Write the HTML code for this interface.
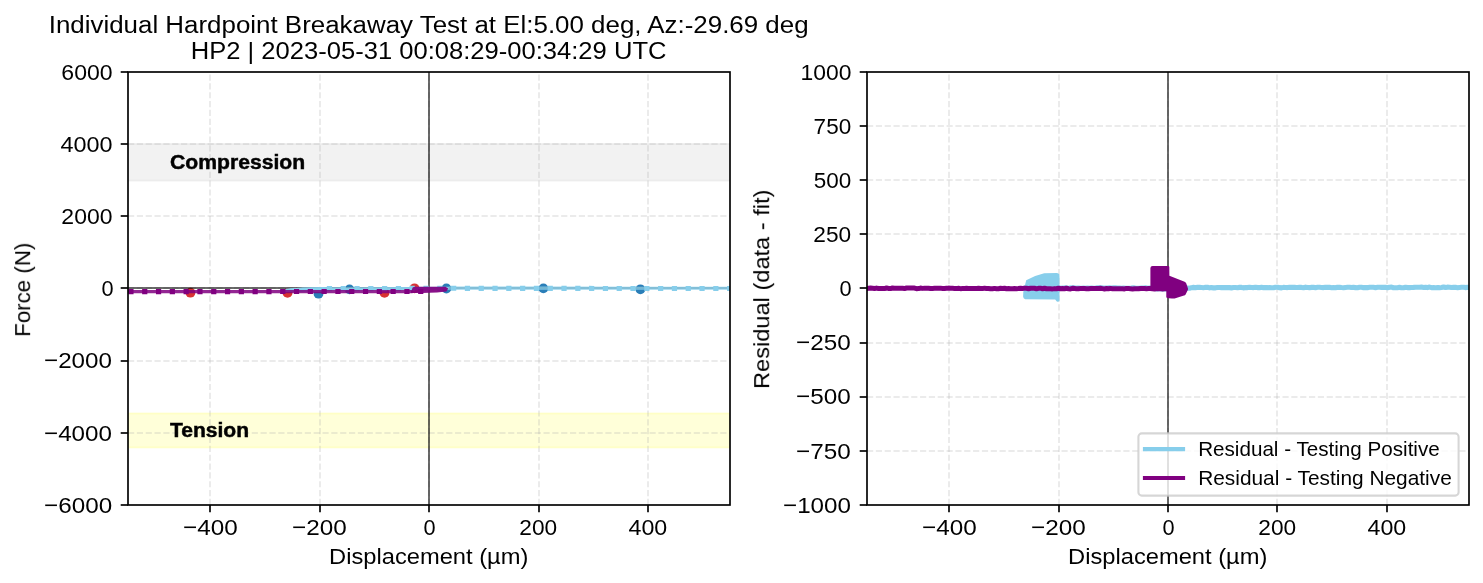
<!DOCTYPE html>
<html><head><meta charset="utf-8"><title>Hardpoint Breakaway Test</title>
<style>html,body{margin:0;padding:0;background:#fff}svg{display:block}</style></head>
<body>
<svg width="1483" height="583" viewBox="0 0 1483 583" font-family="Liberation Sans, sans-serif" fill="#000">
<style>.g{stroke:#b0b0b0;stroke-opacity:.25;stroke-width:2;stroke-dasharray:6.17 2.67;fill:none}.t{stroke:#000;stroke-width:1.67}text{font-family:"Liberation Sans",sans-serif}</style>
<rect width="1483" height="583" fill="#fff"/>
<clipPath id="c1"><rect x="128.0" y="72.0" width="602.0" height="433.0"/></clipPath>
<clipPath id="c2"><rect x="867.0" y="72.0" width="602.0" height="433.0"/></clipPath>
<g clip-path="url(#c1)">
<rect x="128.0" y="143.9" width="602.0" height="36.75" fill="#d3d3d3" fill-opacity=".3" stroke="#d3d3d3" stroke-opacity=".3" stroke-width="1.75"/>
<rect x="128.0" y="413.4" width="602.0" height="34.1" fill="#ffff00" fill-opacity=".15" stroke="#ffff00" stroke-opacity=".15" stroke-width="1.75"/>
<line x1="210" y1="505.0" x2="210" y2="72.0" class="g"/>
<line x1="320" y1="505.0" x2="320" y2="72.0" class="g"/>
<line x1="429" y1="505.0" x2="429" y2="72.0" class="g"/>
<line x1="539" y1="505.0" x2="539" y2="72.0" class="g"/>
<line x1="648" y1="505.0" x2="648" y2="72.0" class="g"/>
<line x1="128.0" y1="433" x2="730.0" y2="433" class="g"/>
<line x1="128.0" y1="361" x2="730.0" y2="361" class="g"/>
<line x1="128.0" y1="288" x2="730.0" y2="288" class="g"/>
<line x1="128.0" y1="216" x2="730.0" y2="216" class="g"/>
<line x1="128.0" y1="144" x2="730.0" y2="144" class="g"/>
<circle cx="190.4" cy="292.7" r="4.9" fill="#d62728" fill-opacity=".95"/>
<circle cx="287.5" cy="292.9" r="4.9" fill="#d62728" fill-opacity=".95"/>
<circle cx="384.5" cy="292.9" r="4.9" fill="#d62728" fill-opacity=".95"/>
<circle cx="414.5" cy="288.3" r="4.9" fill="#d62728" fill-opacity=".95"/>
<circle cx="318.5" cy="293.7" r="4.9" fill="#1f77b4" fill-opacity=".95"/>
<circle cx="349.5" cy="289.4" r="4.9" fill="#1f77b4" fill-opacity=".95"/>
<circle cx="446.4" cy="288.5" r="4.9" fill="#1f77b4" fill-opacity=".95"/>
<circle cx="543.4" cy="288.4" r="4.9" fill="#1f77b4" fill-opacity=".95"/>
<circle cx="640.4" cy="289.3" r="4.9" fill="#1f77b4" fill-opacity=".95"/>
<line x1="429" y1="72.0" x2="429" y2="505.0" stroke="#000" stroke-opacity=".58" stroke-width="2"/>
<line x1="128.0" y1="288" x2="730.0" y2="288" stroke="#000" stroke-opacity=".58" stroke-width="2"/>
<path d="M285.2,292 L285.4,289.4 Q285.6,288.7 286.6,288.7 L302.4,287.4 L324,286.9 L327,287.2 L327,292 Z" fill="#87ceeb"/>
<polyline points="285.60,290.30 300.00,289.60 324.00,288.75 360.00,288.70 449.00,288.25" fill="none" stroke="#87ceeb" stroke-width="3.1" stroke-opacity=".97" stroke-linejoin="round"/>
<polyline points="449.00,288.10 540.00,288.15 640.00,288.20 731.00,288.20" fill="none" stroke="#87ceeb" stroke-width="3.1" stroke-opacity=".85" stroke-linejoin="round"/>
<polyline points="326.85,288.72 360.00,288.70 450.00,288.25 540.00,288.45 640.00,288.50 731.00,288.50" fill="none" stroke="#87ceeb" stroke-width="5.2" stroke-dasharray="5.2 8.6"/>
<polyline points="128,291.6 412.6,291.6" fill="none" stroke="#800080" stroke-width="3.1" stroke-opacity=".85"/>
<polyline points="128.35,291.55 424,291.5" fill="none" stroke="#800080" stroke-width="5.2" stroke-dasharray="5.2 8.6"/>
<path d="M410.8,293 L412.6,287.4 Q414,286.8 415,286.8 L445.5,286.8 L448.2,288.4 L446.4,291.4 L437,292.6 L422,293 Z" fill="#800080" fill-opacity=".93"/>
</g>
<line x1="210.00" y1="505.0" x2="210.00" y2="512.3" class="t"/>
<line x1="320.00" y1="505.0" x2="320.00" y2="512.3" class="t"/>
<line x1="429.00" y1="505.0" x2="429.00" y2="512.3" class="t"/>
<line x1="539.00" y1="505.0" x2="539.00" y2="512.3" class="t"/>
<line x1="648.00" y1="505.0" x2="648.00" y2="512.3" class="t"/>
<line x1="120.7" y1="505.00" x2="128.0" y2="505.00" class="t"/>
<line x1="120.7" y1="433.00" x2="128.0" y2="433.00" class="t"/>
<line x1="120.7" y1="361.00" x2="128.0" y2="361.00" class="t"/>
<line x1="120.7" y1="288.00" x2="128.0" y2="288.00" class="t"/>
<line x1="120.7" y1="216.00" x2="128.0" y2="216.00" class="t"/>
<line x1="120.7" y1="144.00" x2="128.0" y2="144.00" class="t"/>
<line x1="120.7" y1="72.00" x2="128.0" y2="72.00" class="t"/>
<rect x="128.0" y="72.0" width="602.0" height="433.0" fill="none" stroke="#000" stroke-width="1.67"/>
<g clip-path="url(#c2)">
<line x1="949" y1="505.0" x2="949" y2="72.0" class="g"/>
<line x1="1059" y1="505.0" x2="1059" y2="72.0" class="g"/>
<line x1="1168" y1="505.0" x2="1168" y2="72.0" class="g"/>
<line x1="1277" y1="505.0" x2="1277" y2="72.0" class="g"/>
<line x1="1387" y1="505.0" x2="1387" y2="72.0" class="g"/>
<line x1="867.0" y1="451" x2="1469.0" y2="451" class="g"/>
<line x1="867.0" y1="397" x2="1469.0" y2="397" class="g"/>
<line x1="867.0" y1="343" x2="1469.0" y2="343" class="g"/>
<line x1="867.0" y1="288" x2="1469.0" y2="288" class="g"/>
<line x1="867.0" y1="234" x2="1469.0" y2="234" class="g"/>
<line x1="867.0" y1="180" x2="1469.0" y2="180" class="g"/>
<line x1="867.0" y1="126" x2="1469.0" y2="126" class="g"/>
<line x1="1168" y1="72.0" x2="1168" y2="505.0" stroke="#000" stroke-opacity=".58" stroke-width="2"/>
<line x1="867.0" y1="288" x2="1469.0" y2="288" stroke="#000" stroke-opacity=".58" stroke-width="2"/>
<path d="M1026.2,280.3 Q1034,275.5 1044.2,273.2 L1056.6,273.1 Q1059.5,273.2 1059.5,276 L1059.5,300.4 Q1058.6,302.2 1056.8,301.6 L1055.2,299.6 L1025.2,299.2 Q1023.2,298.6 1023.1,296.5 L1023.3,292 Z" fill="#87ceeb"/>
<polyline points="1023.50,287.82 1025.50,288.03 1027.50,287.91 1029.50,288.07 1031.50,288.09 1033.50,287.70 1035.50,287.66 1037.50,288.24 1039.50,287.83 1041.50,287.81 1043.50,288.35 1045.50,287.98 1047.50,288.24 1049.50,287.98 1051.50,288.10 1053.50,287.76 1055.50,288.09 1057.50,288.26 1059.50,288.02 1061.50,288.17 1063.50,288.12 1065.50,287.69 1067.50,288.18 1069.50,288.06 1071.50,287.86 1073.50,287.67 1075.50,288.26 1077.50,287.98 1079.50,288.15 1081.50,288.27 1083.50,288.15 1085.50,288.29 1087.50,287.93 1089.50,288.21 1091.50,287.96 1093.50,288.30 1095.50,288.27 1097.50,287.72 1099.50,287.75 1101.50,287.80 1103.50,288.33 1105.50,287.96 1107.50,288.09 1109.50,287.86 1111.50,288.01 1113.50,287.92 1115.50,287.90 1117.50,288.06 1119.50,288.06 1121.50,288.28 1123.50,288.13 1125.50,288.30 1127.50,288.25 1129.50,288.34 1131.50,288.12 1133.50,287.76 1135.50,288.25 1137.50,288.33 1139.50,288.28 1141.50,288.05 1143.50,288.15 1145.50,287.80 1147.50,288.23 1149.50,288.14 1151.50,288.06 1153.50,288.02 1155.50,288.70 1157.50,288.91 1159.50,288.40 1161.50,289.02 1163.50,288.87 1165.50,288.81 1167.50,289.03 1169.50,289.30 1171.50,289.25 1173.50,288.56 1175.50,288.84 1177.50,288.32 1179.50,288.67 1181.50,288.28 1183.50,288.55 1185.50,288.50 1187.50,288.05 1189.50,288.27 1191.50,287.67 1193.50,287.39 1195.50,287.67 1197.50,287.27 1199.50,287.38 1201.50,287.53 1203.50,287.67 1205.50,287.35 1207.50,287.27 1209.50,287.84 1211.50,287.45 1213.50,287.90 1215.50,287.86 1217.50,287.49 1219.50,287.55 1221.50,287.59 1223.50,287.67 1225.50,287.64 1227.50,287.61 1229.50,287.65 1231.50,287.88 1233.50,287.57 1235.50,287.51 1237.50,287.72 1239.50,287.38 1241.50,287.42 1243.50,287.89 1245.50,287.57 1247.50,287.59 1249.50,287.21 1251.50,287.49 1253.50,287.60 1255.50,287.21 1257.50,287.62 1259.50,287.63 1261.50,287.23 1263.50,287.63 1265.50,287.51 1267.50,287.66 1269.50,287.43 1271.50,287.68 1273.50,287.69 1275.50,287.19 1277.50,287.22 1279.50,287.65 1281.50,287.85 1283.50,287.35 1285.50,287.49 1287.50,287.58 1289.50,287.39 1291.50,287.42 1293.50,287.38 1295.50,287.42 1297.50,287.57 1299.50,287.36 1301.50,287.42 1303.50,287.69 1305.50,287.17 1307.50,287.55 1309.50,287.66 1311.50,287.36 1313.50,287.30 1315.50,287.70 1317.50,287.31 1319.50,287.27 1321.50,287.44 1323.50,287.62 1325.50,287.20 1327.50,287.35 1329.50,287.36 1331.50,287.71 1333.50,287.43 1335.50,287.72 1337.50,287.24 1339.50,287.35 1341.50,287.57 1343.50,287.73 1345.50,287.43 1347.50,287.27 1349.50,287.19 1351.50,287.48 1353.50,287.24 1355.50,287.67 1357.50,287.69 1359.50,287.23 1361.50,287.29 1363.50,287.66 1365.50,287.54 1367.50,287.66 1369.50,287.33 1371.50,287.18 1373.50,287.29 1375.50,287.64 1377.50,287.27 1379.50,287.32 1381.50,287.37 1383.50,287.37 1385.50,287.36 1387.50,287.72 1389.50,287.18 1391.50,287.07 1393.50,287.73 1395.50,287.68 1397.50,287.76 1399.50,287.37 1401.50,287.73 1403.50,287.71 1405.50,287.21 1407.50,287.58 1409.50,287.64 1411.50,287.52 1413.50,287.41 1415.50,287.25 1417.50,287.29 1419.50,287.20 1421.50,287.09 1423.50,287.45 1425.50,287.24 1427.50,287.60 1429.50,287.07 1431.50,287.67 1433.50,287.52 1435.50,287.68 1437.50,287.66 1439.50,287.66 1441.50,287.43 1443.50,287.03 1445.50,287.54 1447.50,287.14 1449.50,287.23 1451.50,287.48 1453.50,287.38 1455.50,287.30 1457.50,287.67 1459.50,287.44 1461.50,287.25 1463.50,287.18 1465.50,287.61 1467.50,287.34 1469.50,287.35" fill="none" stroke="#87ceeb" stroke-width="5.1" stroke-linejoin="round"/>
<polyline points="866.50,288.50 868.50,288.20 870.50,288.09 872.50,288.33 874.50,288.53 876.50,288.08 878.50,288.52 880.50,288.61 882.50,288.54 884.50,288.55 886.50,287.98 888.50,288.42 890.50,288.59 892.50,288.02 894.50,288.18 896.50,288.18 898.50,288.36 900.50,288.29 902.50,288.33 904.50,288.55 906.50,288.01 908.50,288.05 910.50,288.10 912.50,288.10 914.50,288.06 916.50,288.70 918.50,288.62 920.50,288.09 922.50,288.38 924.50,288.25 926.50,288.25 928.50,288.28 930.50,288.49 932.50,288.45 934.50,288.30 936.50,288.18 938.50,288.28 940.50,288.14 942.50,288.44 944.50,288.56 946.50,288.33 948.50,288.12 950.50,288.19 952.50,288.33 954.50,288.50 956.50,288.62 958.50,288.34 960.50,288.64 962.50,288.52 964.50,288.39 966.50,288.35 968.50,288.44 970.50,288.59 972.50,288.39 974.50,288.59 976.50,288.43 978.50,288.28 980.50,288.48 982.50,288.60 984.50,288.16 986.50,288.41 988.50,288.42 990.50,288.74 992.50,288.78 994.50,288.39 996.50,288.76 998.50,288.69 1000.50,288.32 1002.50,288.46 1004.50,288.23 1006.50,288.71 1008.50,288.61 1010.50,288.77 1012.50,288.71 1014.50,288.62 1016.50,288.67 1018.50,288.56 1020.50,288.24 1022.50,288.58 1024.50,288.17 1026.50,288.27 1028.50,288.72 1030.50,288.21 1032.50,288.25 1034.50,288.25 1036.50,288.80 1038.50,288.32 1040.50,288.21 1042.50,288.78 1044.50,288.28 1046.50,288.79 1048.50,288.68 1050.50,288.79 1052.50,288.88 1054.50,288.62 1056.50,288.77 1058.50,288.24 1060.50,288.76 1062.50,288.58 1064.50,288.73 1066.50,288.30 1068.50,288.76 1070.50,288.89 1072.50,288.28 1074.50,288.47 1076.50,288.64 1078.50,288.83 1080.50,288.42 1082.50,288.38 1084.50,288.43 1086.50,288.69 1088.50,288.79 1090.50,288.54 1092.50,288.52 1094.50,288.55 1096.50,288.52 1098.50,288.57 1100.50,288.34 1102.50,288.63 1104.50,288.96 1106.50,288.57 1108.50,288.81 1110.50,288.40 1112.50,288.78 1114.50,288.83 1116.50,288.77 1118.50,288.66 1120.50,288.64 1122.50,288.76 1124.50,288.94 1126.50,288.42 1128.50,288.38 1130.50,288.84 1132.50,288.96 1134.50,288.69 1136.50,288.64 1138.50,288.83 1140.50,288.46 1142.50,288.52 1144.50,288.48 1146.50,288.75 1148.50,288.56 1150.50,288.51 1152.50,288.83 1154.50,289.02 1156.50,288.56 1158.50,288.85 1160.50,288.65 1162.50,288.96 1164.50,288.78 1166.50,288.56 1168.00,288.72" fill="none" stroke="#800080" stroke-width="5.0" stroke-linejoin="round"/>
<path d="M1150.4,290 L1150.4,268 Q1150.5,265.9 1152.6,265.9 L1168.2,265.9 Q1169.3,266 1169.3,267 L1169.4,275.7 L1184.6,281.8 Q1185.9,282.4 1186.3,283.6 L1187.9,288.3 Q1188.2,289.2 1187.8,290 L1185.6,294.4 Q1185.1,295.3 1184,295.6 L1174.6,298.4 Q1170,299.1 1166.3,297.5 L1166.3,290 Z" fill="#800080"/>
<rect x="1138.4" y="433.4" width="320.2" height="62.2" rx="3.4" fill="#fff" fill-opacity=".8" stroke="#ccc" stroke-opacity=".8" stroke-width="2.08"/>
<line x1="1142.9" y1="449.1" x2="1185.1" y2="449.1" stroke="#87ceeb" stroke-width="4.17"/>
<line x1="1142.9" y1="478.0" x2="1185.1" y2="478.0" stroke="#800080" stroke-width="4.17"/>
</g>
<line x1="949.00" y1="505.0" x2="949.00" y2="512.3" class="t"/>
<line x1="1059.00" y1="505.0" x2="1059.00" y2="512.3" class="t"/>
<line x1="1168.00" y1="505.0" x2="1168.00" y2="512.3" class="t"/>
<line x1="1277.00" y1="505.0" x2="1277.00" y2="512.3" class="t"/>
<line x1="1387.00" y1="505.0" x2="1387.00" y2="512.3" class="t"/>
<line x1="859.7" y1="505.00" x2="867.0" y2="505.00" class="t"/>
<line x1="859.7" y1="451.00" x2="867.0" y2="451.00" class="t"/>
<line x1="859.7" y1="397.00" x2="867.0" y2="397.00" class="t"/>
<line x1="859.7" y1="343.00" x2="867.0" y2="343.00" class="t"/>
<line x1="859.7" y1="288.00" x2="867.0" y2="288.00" class="t"/>
<line x1="859.7" y1="234.00" x2="867.0" y2="234.00" class="t"/>
<line x1="859.7" y1="180.00" x2="867.0" y2="180.00" class="t"/>
<line x1="859.7" y1="126.00" x2="867.0" y2="126.00" class="t"/>
<line x1="859.7" y1="72.00" x2="867.0" y2="72.00" class="t"/>
<rect x="867.0" y="72.0" width="602.0" height="433.0" fill="none" stroke="#000" stroke-width="1.67"/>
<g opacity="0.999">
<text transform="translate(170.06,169.41) scale(1.0799,1)" font-size="19.59" font-weight="bold" stroke="#000" stroke-width="0.45" >Compression</text>
<text transform="translate(169.91,436.80) scale(1.0744,1)" font-size="19.59" font-weight="bold" stroke="#000" stroke-width="0.45" >Tension</text>
<text transform="translate(329.04,563.62) scale(1.0887,1)" font-size="21.77" >Displacement (µm)</text>
<text transform="translate(183.03,535.28) scale(1.0750,1)" font-size="22.60" >−400</text>
<text transform="translate(292.03,535.28) scale(1.0750,1)" font-size="22.60" >−200</text>
<text transform="translate(423.58,535.28) scale(0.9631,1)" font-size="22.60" >0</text>
<text transform="translate(519.37,535.28) scale(1.0038,1)" font-size="22.60" >200</text>
<text transform="translate(628.48,535.28) scale(1.0279,1)" font-size="22.60" >400</text>
<text transform="translate(30.16,336.84) rotate(-90) scale(1.0254,1)" font-size="21.77" >Force (N)</text>
<text transform="translate(44.03,512.70) scale(1.0733,1)" font-size="22.60" >−6000</text>
<text transform="translate(44.03,440.53) scale(1.0712,1)" font-size="22.60" >−4000</text>
<text transform="translate(44.03,368.37) scale(1.0712,1)" font-size="22.60" >−2000</text>
<text transform="translate(101.58,296.20) scale(0.9631,1)" font-size="22.60" >0</text>
<text transform="translate(61.35,224.03) scale(1.0174,1)" font-size="22.60" >2000</text>
<text transform="translate(60.47,151.87) scale(1.0352,1)" font-size="22.60" >4000</text>
<text transform="translate(61.37,79.70) scale(1.0197,1)" font-size="22.60" >6000</text>
<text transform="translate(48.70,32.60) scale(1.0825,1)" font-size="23.95" >Individual Hardpoint Breakaway Test at El:5.00 deg, Az:-29.69 deg</text>
<text transform="translate(190.69,59.20) scale(1.0686,1)" font-size="23.95" >HP2 | 2023-05-31 00:08:29-00:34:29 UTC</text>
<text transform="translate(1068.04,563.62) scale(1.0887,1)" font-size="21.77" >Displacement (µm)</text>
<text transform="translate(922.03,535.28) scale(1.0750,1)" font-size="22.60" >−400</text>
<text transform="translate(1031.03,535.28) scale(1.0750,1)" font-size="22.60" >−200</text>
<text transform="translate(1162.58,535.28) scale(0.9631,1)" font-size="22.60" >0</text>
<text transform="translate(1258.37,535.28) scale(1.0038,1)" font-size="22.60" >200</text>
<text transform="translate(1367.48,535.28) scale(1.0279,1)" font-size="22.60" >400</text>
<text transform="translate(769.18,388.95) rotate(-90) scale(1.0851,1)" font-size="21.77" >Residual (data - fit)</text>
<text transform="translate(783.03,512.70) scale(1.0712,1)" font-size="22.60" >−1000</text>
<text transform="translate(796.03,458.58) scale(1.0750,1)" font-size="22.60" >−750</text>
<text transform="translate(796.03,404.45) scale(1.0750,1)" font-size="22.60" >−500</text>
<text transform="translate(796.03,350.32) scale(1.0750,1)" font-size="22.60" >−250</text>
<text transform="translate(839.58,296.20) scale(0.9631,1)" font-size="22.60" >0</text>
<text transform="translate(813.37,242.08) scale(1.0038,1)" font-size="22.60" >250</text>
<text transform="translate(813.72,187.95) scale(0.9941,1)" font-size="22.60" >500</text>
<text transform="translate(813.62,133.82) scale(0.9968,1)" font-size="22.60" >750</text>
<text transform="translate(800.59,79.70) scale(1.0125,1)" font-size="22.60" >1000</text>
<text transform="translate(1198.17,456.35) scale(1.0540,1)" font-size="19.59" >Residual - Testing Positive</text>
<text transform="translate(1198.15,484.62) scale(1.0654,1)" font-size="19.59" >Residual - Testing Negative</text>
</g>
</svg>
</body></html>
